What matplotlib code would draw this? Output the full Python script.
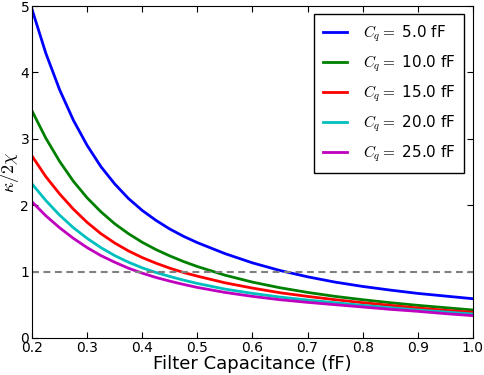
import matplotlib
matplotlib.use("Agg")
import matplotlib.pyplot as plt

plt.rcParams['mathtext.fontset'] = 'cm'
plt.rcParams['font.family'] = ['DejaVu Sans']

x = [0.2, 0.225, 0.25, 0.275, 0.3, 0.325, 0.35, 0.375, 0.4, 0.425, 0.45, 0.475, 0.5,
     0.55, 0.6, 0.65, 0.7, 0.75, 0.8, 0.85, 0.9, 0.95, 1.0]
cq_values = [5.0, 10.0, 15.0, 20.0, 25.0]
y_cq5 = [4.95, 4.29, 3.74, 3.28, 2.90, 2.58, 2.32, 2.10, 1.92, 1.77, 1.64, 1.53, 1.435,
         1.27, 1.13, 1.015, 0.92, 0.84, 0.775, 0.72, 0.67, 0.63, 0.59]
y_cq10 = [3.42, 3.01, 2.66, 2.36, 2.11, 1.90, 1.72, 1.57, 1.44, 1.33, 1.235, 1.15, 1.075,
          0.945, 0.84, 0.755, 0.685, 0.625, 0.575, 0.53, 0.49, 0.455, 0.42]
y_cq15 = [2.74, 2.43, 2.17, 1.94, 1.74, 1.57, 1.43, 1.31, 1.21, 1.125, 1.05, 0.985, 0.93,
          0.83, 0.75, 0.68, 0.625, 0.575, 0.53, 0.49, 0.45, 0.415, 0.385]
y_cq20 = [2.32, 2.07, 1.85, 1.66, 1.50, 1.36, 1.24, 1.14, 1.055, 0.985, 0.925, 0.87, 0.82,
          0.735, 0.67, 0.615, 0.57, 0.53, 0.49, 0.455, 0.42, 0.39, 0.36]
y_cq25 = [2.05, 1.84, 1.66, 1.50, 1.36, 1.24, 1.14, 1.05, 0.975, 0.91, 0.855, 0.805, 0.76,
          0.685, 0.625, 0.575, 0.535, 0.50, 0.465, 0.43, 0.40, 0.365, 0.335]
series = [y_cq5, y_cq10, y_cq15, y_cq20, y_cq25]
colors = ['#0000ff', '#008000', '#ff0000', '#00bfbf', '#bf00bf']

fig = plt.figure(figsize=(4.85, 3.75), dpi=100)
ax = fig.add_axes([0.066, 0.099, 0.909, 0.885])

for cq, ys, c in zip(cq_values, series, colors):
    ax.plot(x, ys, color=c, lw=2, label=r'$C_q=$ %.1f fF' % cq)

ax.axhline(1.0, color='gray', lw=1.5, ls='--', dashes=(3.3, 2.2))

ax.set_xlim(0.2, 1.0)
ax.set_ylim(0, 5)
ax.set_xticks([0.2, 0.3, 0.4, 0.5, 0.6, 0.7, 0.8, 0.9, 1.0])
ax.set_yticks([0, 1, 2, 3, 4, 5])
ax.tick_params(direction='in', length=4, labelsize=10, top=True, right=True, pad=2)
ax.set_xlabel('Filter Capacitance (fF)', fontsize=13)
ax.xaxis.set_label_coords(0.5, -0.052)
ax.set_ylabel(r'$\kappa/2\chi$', fontsize=13)
ax.yaxis.set_label_coords(-0.026, 0.5)

leg = ax.legend(loc='upper right', fontsize=11, fancybox=False, framealpha=1,
                edgecolor='black', handlelength=1.6, handletextpad=1.0,
                labelspacing=0.62, borderpad=0.6, borderaxespad=0.55)
leg.get_frame().set_linewidth(1.0)

fig.savefig('out.png', dpi=100)
